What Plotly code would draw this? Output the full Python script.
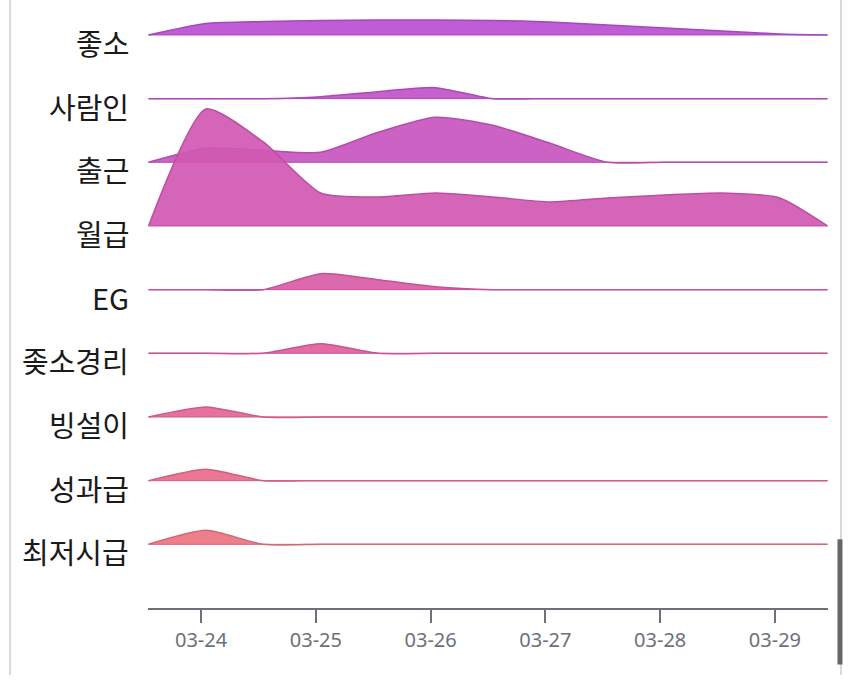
import plotly.graph_objects as go

# ---- data ----
times = ["2024-03-23 13:00", "2024-03-24 01:00", "2024-03-24 13:00", "2024-03-25 01:00",
         "2024-03-25 13:00", "2024-03-26 01:00", "2024-03-26 13:00", "2024-03-27 01:00",
         "2024-03-27 13:00", "2024-03-28 01:00", "2024-03-28 13:00", "2024-03-29 01:00",
         "2024-03-29 11:00"]

keywords = ["좋소", "사람인", "출근", "월급", "EG", "좆소경리", "빙설이", "성과급", "최저시급"]

v_joso      = [0, 11.5, 13.5, 14.5, 15, 15, 14.5, 13, 10, 7, 4, 1, 0]
v_saramin   = [0, 0, 0, 2, 7, 11, 0, 0, 0, 0, 0, 0, 0]
v_chulgeun  = [0, 14, 12, 10, 30, 45, 37, 19, 0, 0, 0, 0, 0]
v_wolgeup   = [0, 117, 84, 33, 29, 33, 29, 24, 28, 31, 33, 28, 0]
v_eg        = [0, 0, 0, 16, 10, 3, 0, 0, 0, 0, 0, 0, 0]
v_jjosogr   = [0, 0, 0, 9.5, 0, 0, 0, 0, 0, 0, 0, 0, 0]
v_bingseol  = [0, 10, 0, 0, 0, 0, 0, 0, 0, 0, 0, 0, 0]
v_sunggwa   = [0, 11.5, 0, 0, 0, 0, 0, 0, 0, 0, 0, 0, 0]
v_choijeo   = [0, 14, 0, 0, 0, 0, 0, 0, 0, 0, 0, 0, 0]

series_values = [v_joso, v_saramin, v_chulgeun, v_wolgeup, v_eg,
                 v_jjosogr, v_bingseol, v_sunggwa, v_choijeo]

fill_colors = ["#b94fd1", "#c052c8", "#c855be", "#d058b2", "#d95ca7",
               "#de5f9e", "#e56596", "#e86b8a", "#eb7480"]

tick_days = ["2024-03-24", "2024-03-25", "2024-03-26", "2024-03-27", "2024-03-28", "2024-03-29"]
tick_labels = ["03-24", "03-25", "03-26", "03-27", "03-28", "03-29"]

# ---- styling helpers ----
ROW_UNIT = 63.67  # value units per row spacing


def hex_rgba(h, a):
    h = h.lstrip("#")
    r, g, b = int(h[0:2], 16), int(h[2:4], 16), int(h[4:6], 16)
    return f"rgba({r},{g},{b},{a})"


def darker(h, f=0.9):
    h = h.lstrip("#")
    r, g, b = int(h[0:2], 16), int(h[2:4], 16), int(h[4:6], 16)
    return f"rgb({int(r*f)},{int(g*f)},{int(b*f)})"


fig = go.Figure()
n = len(keywords)
for i, (name, vals, col) in enumerate(zip(keywords, series_values, fill_colors)):
    base = n - 1 - i
    fig.add_trace(go.Scatter(
        x=times, y=[base] * len(times), mode="lines",
        line=dict(color=darker(col), width=1), hoverinfo="skip", showlegend=False))
    fig.add_trace(go.Scatter(
        x=times, y=[base + v / ROW_UNIT for v in vals], mode="lines",
        line=dict(color=darker(col), width=1.5, shape="spline", smoothing=0.6),
        fill="tonexty", fillcolor=hex_rgba(col, 0.92), name=name, showlegend=False))
    fig.add_annotation(x=0, xref="paper", y=base, yref="y", text=name,
                       showarrow=False, xanchor="right", yanchor="middle",
                       xshift=-17, yshift=-7,
                       font=dict(size=29, color="#1a1a1a", family="Noto Sans CJK KR"))

# card frame (mobile UI)
shapes = [
    dict(type="line", xref="paper", yref="paper", x0=-0.203, x1=-0.203, y0=1.0, y1=-0.11,
         line=dict(color="#d9d9d9", width=2)),
    dict(type="line", xref="paper", yref="paper", x0=1.0191, x1=1.0191, y0=1.0, y1=-0.11,
         line=dict(color="#d9d9d9", width=2)),
    dict(type="line", xref="paper", yref="paper", x0=1.0176, x1=1.0176, y0=0.113, y1=-0.093,
         line=dict(color="#666666", width=5)),
]

fig.update_layout(
    width=850, height=683,
    margin=dict(l=148, r=22, t=0, b=75),
    paper_bgcolor="white", plot_bgcolor="white",
    shapes=shapes,
    xaxis=dict(type="date", range=["2024-03-23 12:54", "2024-03-29 11:06"],
               tickvals=tick_days, ticktext=tick_labels,
               showline=True, linecolor="#6e7079", linewidth=1.5,
               ticks="outside", ticklen=13, tickwidth=1.5, tickcolor="#6e7079",
               tickfont=dict(size=20, color="#6e7079", family="Noto Sans"),
               showgrid=False, zeroline=False),
    yaxis=dict(range=[-1, 8.549], showticklabels=False, showgrid=False,
               zeroline=False, showline=False, ticks=""),
)

fig.write_html("out.html")
